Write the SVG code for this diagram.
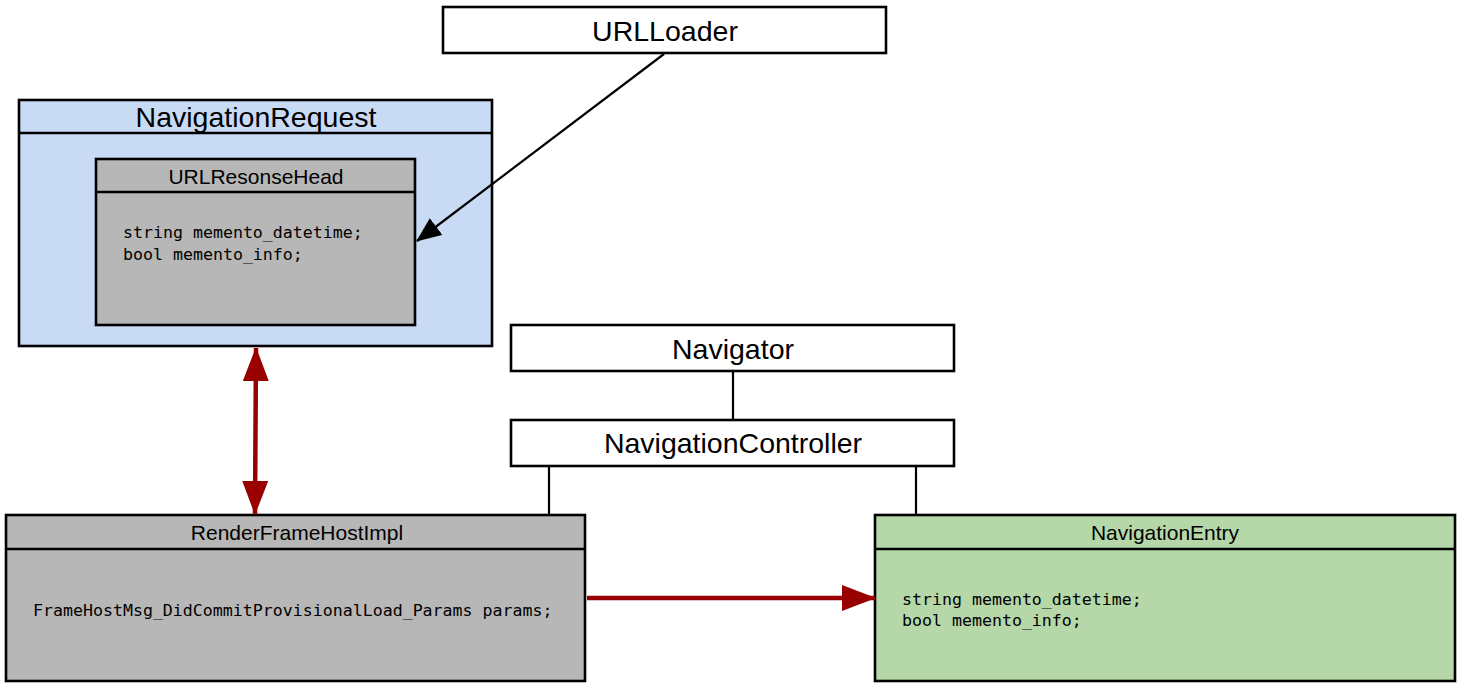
<svg xmlns="http://www.w3.org/2000/svg" width="1462" height="687" viewBox="0 0 1462 687">
<defs>
<style>
.box{stroke:#000;stroke-width:2.6}
.white{fill:#fff}
.blue{fill:#c9daf5}
.gray{fill:#b7b7b7}
.green{fill:#b6d7a8}
.big{font-family:"Liberation Sans",Arial,sans-serif;font-size:28.5px;fill:#000;text-anchor:middle}
.mid{font-family:"Liberation Sans",Arial,sans-serif;font-size:21px;fill:#000;text-anchor:middle}
.mono{font-family:"DejaVu Sans Mono","Liberation Mono",monospace;font-size:16.6px;fill:#000}
.link{stroke:#000;stroke-width:2.2;fill:none}
.red{stroke:#990000;stroke-width:4.5;fill:none}
</style>
<marker id="blackHead" viewBox="0 0 25 21" refX="24" refY="10.5" markerWidth="25" markerHeight="21" markerUnits="userSpaceOnUse" orient="auto">
<path d="M0,0 L25,10.5 L0,21 Z" fill="#000"/>
</marker>
<marker id="redHead" viewBox="0 0 34 26" refX="33" refY="13" markerWidth="34" markerHeight="26" markerUnits="userSpaceOnUse" orient="auto-start-reverse">
<path d="M0,0 L34,13 L0,26 Z" fill="#990000"/>
</marker>
</defs>
<rect width="1462" height="687" fill="#fff"/>

<g id="URLLoader">
<rect class="box white" x="443" y="7" width="443" height="46"/>
<text class="big" x="665" y="41">URLLoader</text>
</g>

<g id="NavigationRequest">
<rect class="box blue" x="19" y="100" width="473" height="246"/>
<line class="box" x1="19" y1="133" x2="492" y2="133"/>
<text class="big" x="256" y="127">NavigationRequest</text>
</g>

<g id="URLResonseHead">
<rect class="box gray" x="96" y="159" width="319" height="166"/>
<line class="box" x1="96" y1="192" x2="415" y2="192"/>
<text class="mid" x="256" y="184">URLResonseHead</text>
<text class="mono" x="123" y="238">string memento_datetime;</text>
<text class="mono" x="123" y="260">bool memento_info;</text>
</g>

<g id="Navigator">
<rect class="box white" x="511" y="325" width="443" height="46"/>
<text class="big" x="733" y="359">Navigator</text>
</g>

<g id="NavigationController">
<rect class="box white" x="511" y="420" width="443" height="46"/>
<text class="big" x="733" y="453">NavigationController</text>
</g>

<g id="RenderFrameHostImpl">
<rect class="box gray" x="6" y="515" width="579" height="166"/>
<line class="box" x1="6" y1="549" x2="585" y2="549"/>
<text class="mid" x="297" y="540">RenderFrameHostImpl</text>
<text class="mono" x="33" y="616">FrameHostMsg_DidCommitProvisionalLoad_Params params;</text>
</g>

<g id="NavigationEntry">
<rect class="box green" x="875" y="515" width="580" height="166"/>
<line class="box" x1="875" y1="549" x2="1455" y2="549"/>
<text class="mid" x="1165" y="540">NavigationEntry</text>
<text class="mono" x="902" y="605">string memento_datetime;</text>
<text class="mono" x="902" y="626">bool memento_info;</text>
</g>

<g id="connectors">
<line class="link" x1="733" y1="372" x2="733" y2="419"/>
<line class="link" x1="549" y1="467" x2="549" y2="514"/>
<line class="link" x1="916" y1="467" x2="916" y2="514"/>
<line class="link" x1="664" y1="54" x2="417" y2="241" marker-end="url(#blackHead)"/>
<line class="red" x1="256" y1="348" x2="255" y2="514" marker-start="url(#redHead)" marker-end="url(#redHead)"/>
<line class="red" x1="587" y1="598" x2="875" y2="598" marker-end="url(#redHead)"/>
</g>
</svg>
